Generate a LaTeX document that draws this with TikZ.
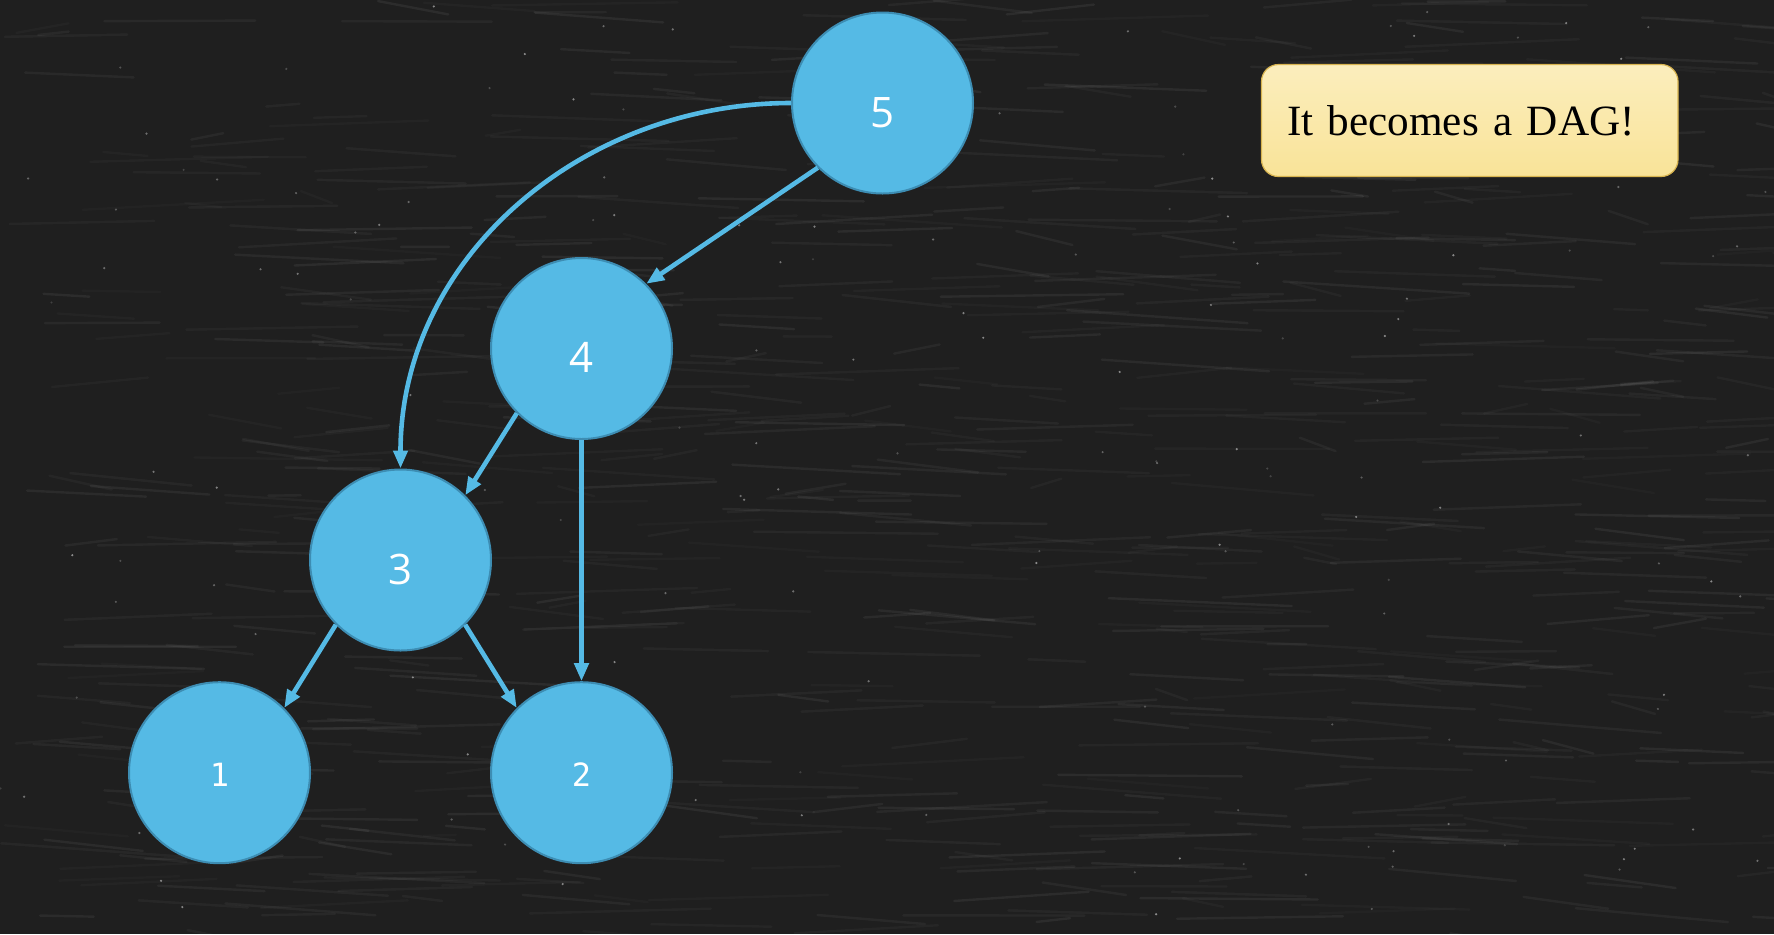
\documentclass[tikz,border=0pt]{standalone}
\usepackage{fontspec}
\setmainfont{Liberation Serif}
\newfontfamily\numfont{Open Sans}
\newfontfamily\monofont{DejaVu Sans Mono}
\newfontfamily\notefont[WordSpace=0.75]{Liberation Serif}
\usetikzlibrary{arrows.meta,shadings}
\definecolor{nodeblue}{HTML}{55BAE5}
\definecolor{nodeedge}{HTML}{3D8DB3}
\definecolor{board}{HTML}{1F1F1F}
\definecolor{notetop}{HTML}{FBEEBD}
\definecolor{notebot}{HTML}{F9E398}
\definecolor{noteedge}{HTML}{D8B450}
\begin{document}
\begin{tikzpicture}[x=0.5pt,y=-0.5pt,
  vert/.style={circle,fill=nodeblue,draw=nodeedge,line width=1pt,minimum size=90.5pt,inner sep=0pt,text=white,
    text height=24pt,text depth=0pt,font=\numfont\fontsize{21}{21}\selectfont},
  vertm/.style={vert,text height=14.1pt,font=\monofont\fontsize{16}{16}\selectfont},
  arc/.style={draw=nodeblue,line width=2.3pt,-{Triangle[length=9pt,width=7pt]}},
  chalk/.style={white,line cap=round},
  note/.style={rounded corners=8.5pt,draw=noteedge,line width=0.6pt,top color=notetop,bottom color=notebot,
    minimum height=56pt,text width=182.75pt,inner xsep=12.75pt,align=left,font=\notefont\fontsize{21.6}{24}\selectfont}
]
\fill[board] (0,0) rectangle (1774,934);
\useasboundingbox (0,0) rectangle (1774,934);
% chalkboard texture
\pgfmathsetseed{4217}
\foreach \i in {1,...,700}{
  \pgfmathsetmacro\xa{rnd*1774}
  \pgfmathsetmacro\ya{rnd*934}
  \pgfmathsetmacro\ll{30+rnd*160}
  \pgfmathsetmacro\dd{rnd*24-10}
  \pgfmathsetmacro\op{0.02+rnd*0.04}
  \draw[chalk,opacity=\op,line width=1.2pt] (\xa,\ya) -- ++(\ll,\dd);
}
\foreach \i in {1,...,160}{
  \pgfmathsetmacro\xa{rnd*1774}
  \pgfmathsetmacro\ya{rnd*934}
  \pgfmathsetmacro\op{0.15+rnd*0.35}
  \fill[white,opacity=\op] (\xa,\ya) circle (0.6pt);
}

\node[vert]  (n5) at (882.5,103) {5};
\node[vert]  (n4) at (581.5,348.5) {4};
\node[vert]  (n3) at (400.5,560) {3};
\node[vertm] (n1) at (219.5,772.7) {1};
\node[vertm] (n2) at (581.5,772.7) {2};

\node[note] (msg) at (1469.75,120.5) {It becomes a DAG!};

\draw[arc] (n5.south west) -- (n4.north east);
\draw[arc] (n5.west) .. controls +(-210,0) and +(0,-210) .. (n3.north);
\draw[arc] (n4.south west) -- (n3.north east);
\draw[arc] (n4.south) -- (n2.north);
\draw[arc] (n3.south west) -- (n1.north east);
\draw[arc] (n3.south east) -- (n2.north west);
\end{tikzpicture}
\end{document}
